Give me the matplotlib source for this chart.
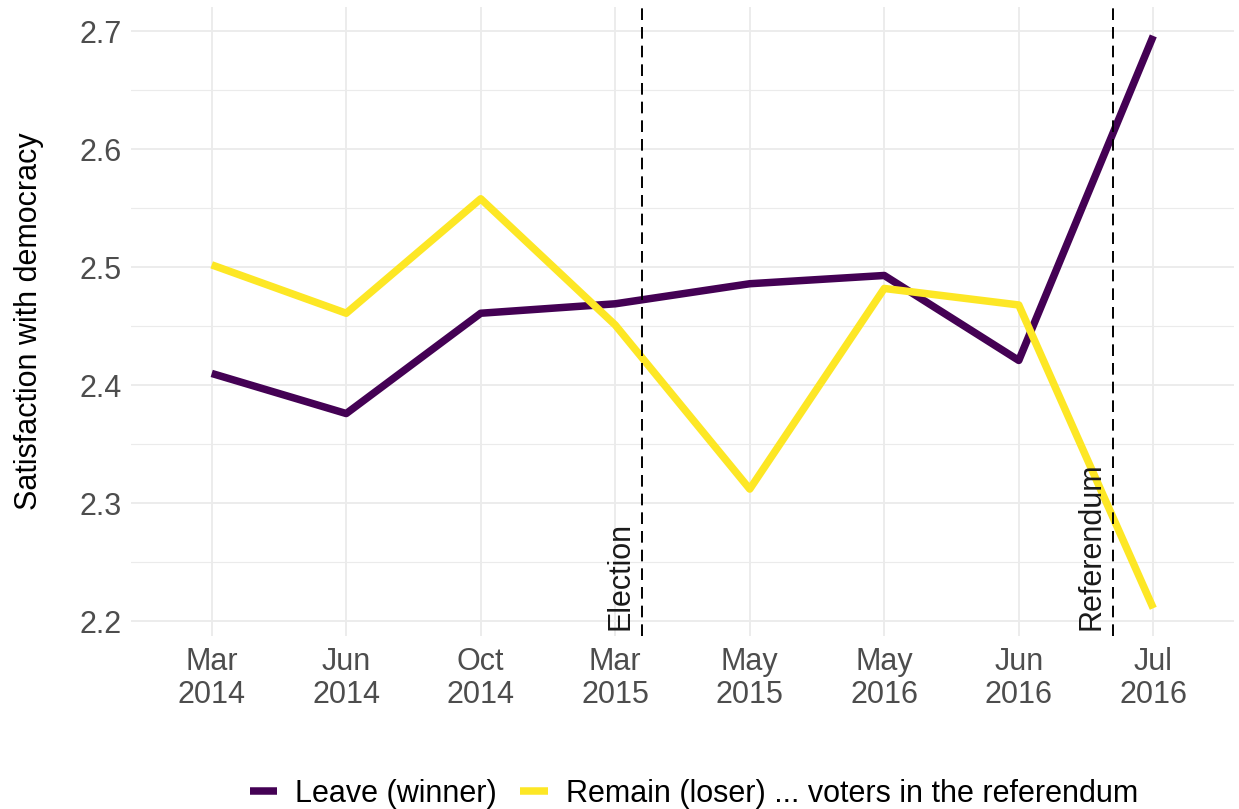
import matplotlib
matplotlib.use("Agg")
import matplotlib.pyplot as plt

plt.rcParams['font.family'] = ['Liberation Sans', 'DejaVu Sans']

waves = ["Mar\n2014", "Jun\n2014", "Oct\n2014", "Mar\n2015",
         "May\n2015", "May\n2016", "Jun\n2016", "Jul\n2016"]
leave = [2.410, 2.376, 2.461, 2.469, 2.486, 2.493, 2.421, 2.696]
remain = [2.502, 2.461, 2.558, 2.451, 2.312, 2.482, 2.468, 2.211]
events = ["Election", "Referendum"]
event_pos = [4.2, 7.7]

x = list(range(1, len(waves) + 1))

fig = plt.figure(figsize=(12.39, 8.09), dpi=100)
ax = fig.add_axes([131 / 1239, 1 - 636 / 809, 1103 / 1239, 629 / 809])

ax.plot(x, leave, color="#440154", lw=5.4, label="Leave (winner)",
        solid_capstyle="butt", zorder=3)
ax.plot(x, remain, color="#FDE725", lw=5.4,
        label="Remain (loser) ... voters in the referendum",
        solid_capstyle="butt", zorder=3)

for name, pos in zip(events, event_pos):
    ax.axvline(pos, color="black", lw=1.4, ls=(0, (6, 3.6)), zorder=4)
    ax.text(pos - 0.16, 2.193, name, rotation=90, ha="center", va="bottom",
            fontsize=22, color="#1a1a1a", zorder=5)

ax.set_xlim(0.4, 8.6)
ax.set_ylim(2.1875, 2.7205)
ax.set_xticks(x)
ax.set_xticklabels(waves)
for t in ax.get_xticklabels():
    t.set_linespacing(1.12)
ax.set_yticks([2.2, 2.3, 2.4, 2.5, 2.6, 2.7])
ax.set_yticks([2.25, 2.35, 2.45, 2.55, 2.65], minor=True)
ax.grid(True, which="major", color="#EBEBEB", lw=1.3)
ax.grid(True, which="minor", axis="y", color="#EBEBEB", lw=0.8)
ax.set_axisbelow(True)
for s in ax.spines.values():
    s.set_visible(False)
ax.tick_params(axis="both", which="both", length=0, labelsize=22,
               labelcolor="#4D4D4D")
ax.tick_params(axis="y", pad=7)
ax.tick_params(axis="x", pad=8)
ax.set_ylabel("Satisfaction with democracy", fontsize=22, color="black",
              labelpad=25)

fig.legend(loc="lower center", bbox_to_anchor=(0.56, -0.034), ncol=2,
           frameon=False, fontsize=22, handlelength=0.9, handletextpad=0.6,
           columnspacing=0.75)

fig.savefig("out.png", dpi=100)
